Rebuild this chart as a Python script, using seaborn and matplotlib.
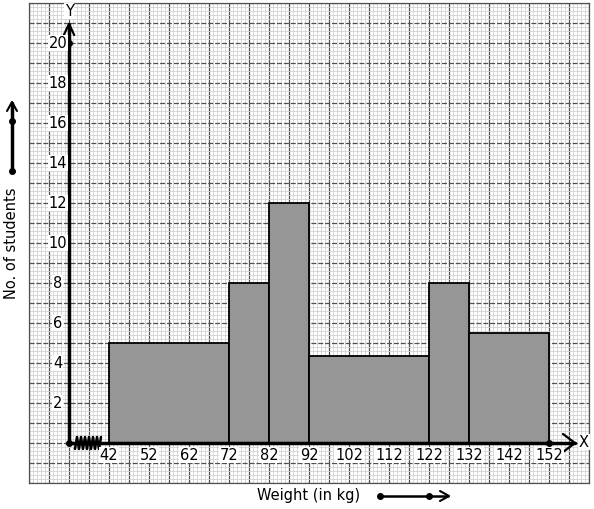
import numpy as np
import matplotlib.pyplot as plt
import seaborn as sns

# class intervals (kg) and number of students
edges = [42, 72, 82, 92, 122, 132, 152]
students = [5, 8, 12, 4.33, 8, 5.5]
x_ticks = [42, 52, 62, 72, 82, 92, 102, 112, 122, 132, 142, 152]
y_ticks = [2, 4, 6, 8, 10, 12, 14, 16, 18, 20]

mids = [(a + b) / 2 for a, b in zip(edges[:-1], edges[1:])]

sns.set_style("white")
plt.rcParams['font.family'] = ['DejaVu Sans']
plt.rcParams['text.color'] = 'black'

fig = plt.figure(figsize=(5.94, 5.10), dpi=100)
ax = fig.add_axes([29 / 594, 26 / 510, 560 / 594, 480 / 510])
ax.set_xlim(22, 162)
ax.set_ylim(-2, 22)

# graph paper
ax.set_xticks(np.arange(22, 163, 5))
ax.set_xticks(np.arange(22, 163, 1), minor=True)
ax.set_yticks(np.arange(-2, 23, 1))
ax.set_yticks(np.arange(-2, 22.01, 0.2), minor=True)
ax.grid(which='minor', color='#d2d2d2', linewidth=0.6)
ax.xaxis.grid(True, which='major', color='#505050', linewidth=0.9)
ax.yaxis.grid(True, which='major', color='#505050', linewidth=0.9, linestyle=(0, (4, 1.5)))
ax.set_axisbelow(True)
ax.tick_params(which='both', length=0, labelbottom=False, labelleft=False)
for s in ax.spines.values():
    s.set_color('#505050')
    s.set_linewidth(0.9)

# histogram
sns.histplot(x=mids, weights=students, bins=edges, color='#969696', alpha=1,
             edgecolor='black', linewidth=1.3, ax=ax, zorder=2)
ax.set_xlabel('')
ax.set_ylabel('')

# axes
ax.plot([32, 158.5], [0, 0], color='black', lw=2.5, zorder=3)
ax.plot([32, 32], [0, 20.95], color='black', lw=2.5, zorder=3)
ax.plot([30.7, 32, 33.3], [20.4, 20.95, 20.4], color='black', lw=1.6, zorder=3)
ax.plot([155.5, 158.5, 155.5], [0.45, 0, -0.45], color='black', lw=1.6, zorder=3)
ax.plot([32, 152], [0, 0], 'o', color='black', ms=4, zorder=4)
ax.plot([32], [20], 'o', color='black', ms=4, zorder=4)

# kink on x axis
zx = np.linspace(33.5, 40, 14)
zy = np.array([0.3 if i % 2 else -0.3 for i in range(14)])
ax.plot(zx, zy, color='black', lw=1.8, zorder=3)

for v in x_ticks:
    ax.text(v, -0.6, str(v), ha='center', va='center', fontsize=10.5,
            bbox=dict(fc='white', ec='none', pad=0.5), zorder=5)
for v in y_ticks:
    ax.text(29.2, v, str(v), ha='center', va='center', fontsize=10.5,
            bbox=dict(fc='white', ec='none', pad=0.5), zorder=5)
ax.text(32, 21.6, 'Y', ha='center', va='center', fontsize=10.5,
        bbox=dict(fc='white', ec='none', pad=0.5), zorder=5)
ax.text(160.7, 0.05, 'X', ha='center', va='center', fontsize=10.5,
        bbox=dict(fc='white', ec='none', pad=0.5), zorder=5)

# labels and outside arrows
fig.text(12 / 594, 1 - 243 / 510, 'No. of students', rotation=90,
         ha='center', va='center', fontsize=10.5)
fig.text(309 / 594, 1 - 496 / 510, 'Weight (in kg)', ha='center', va='center', fontsize=10.5)
fig.add_artist(plt.Line2D([12 / 594, 12 / 594], [1 - 172 / 510, 1 - 104 / 510], color='black', lw=2.5))
fig.add_artist(plt.Line2D([7 / 594, 12 / 594, 17 / 594], [1 - 112 / 510, 1 - 103 / 510, 1 - 112 / 510], color='black', lw=1.5))
fig.add_artist(plt.Line2D([12 / 594, 12 / 594], [1 - 172 / 510, 1 - 122 / 510], marker='o', ms=4, ls='none', color='black'))
fig.add_artist(plt.Line2D([380 / 594, 448 / 594], [1 - 497 / 510, 1 - 497 / 510], color='black', lw=1.8))
fig.add_artist(plt.Line2D([440 / 594, 449 / 594, 440 / 594], [1 - 492 / 510, 1 - 497 / 510, 1 - 502 / 510], color='black', lw=1.5))
fig.add_artist(plt.Line2D([380 / 594, 429 / 594], [1 - 497 / 510, 1 - 497 / 510], marker='o', ms=4, ls='none', color='black'))

fig.savefig('out.png', dpi=100)
